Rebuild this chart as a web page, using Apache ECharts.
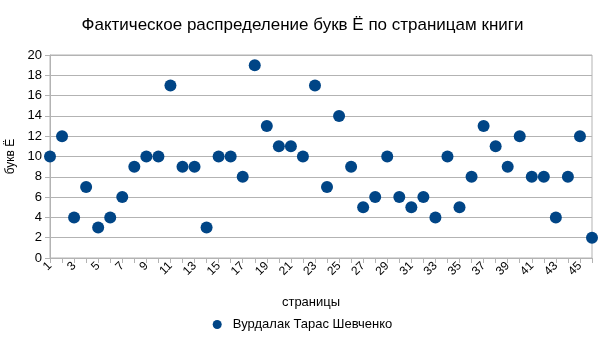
<!DOCTYPE html>
<html><head><meta charset="utf-8">
<script src="https://cdn.jsdelivr.net/npm/echarts@6/dist/echarts.min.js"></script>
<style>html,body{margin:0;padding:0;background:#fff}#c{width:605px;height:341px}</style>
</head><body><div id="c"></div>
<script>
const pages = [];
for (let i = 1; i <= 46; i++) pages.push(String(i));
const letterCounts = [10,12,4,7,3,4,6,9,10,10,17,9,9,3,10,10,8,19,13,11,11,10,17,7,14,9,5,6,10,6,5,6,4,10,5,8,13,11,9,12,8,8,4,8,12,2];
const yTicks = {min:0, max:20, interval:2};
const seriesName = 'Вурдалак Тарас Шевченко';
const font = '"Liberation Sans", Arial, sans-serif';
const chart = echarts.init(document.getElementById('c'), null, {renderer:'canvas'});
chart.setOption({
  animation:false,
  title:{text:'Фактическое распределение букв Ё по страницам книги', left:'center', top:12,
    textStyle:{fontFamily:font, fontSize:17, fontWeight:'normal', color:'#000'}},
  grid:{left:50, right:13, top:55, bottom:83, containLabel:false, outerBoundsMode:'none',
    show:true, borderColor:'#b3b3b3', borderWidth:1},
  legend:{bottom:5, left:'center', itemWidth:9, itemHeight:9, itemGap:5,
    textStyle:{fontFamily:font, fontSize:13, color:'#000', padding:[0,0,0,6]}, data:[{name:seriesName, icon:'circle'}]},
  xAxis:{type:'category', data:pages, boundaryGap:false, name:'страницы', nameLocation:'middle', nameGap:38,
    nameTextStyle:{fontFamily:font, fontSize:13, color:'#000', padding:[0,20,0,0]},
    axisLine:{lineStyle:{color:'#b3b3b3'}},
    axisTick:{show:true, interval:0, length:5, lineStyle:{color:'#b3b3b3'}},
    axisLabel:{interval:1, rotate:45, fontFamily:font, fontSize:12, color:'#000', margin:6},
    splitLine:{show:false}},
  yAxis:{type:'value', min:yTicks.min, max:yTicks.max, interval:yTicks.interval, name:'букв Ё', nameLocation:'middle', nameGap:30,
    nameTextStyle:{fontFamily:font, fontSize:12, color:'#000'},
    axisLine:{show:true, lineStyle:{color:'#b3b3b3'}},
    axisTick:{show:true, length:5, lineStyle:{color:'#b3b3b3'}},
    axisLabel:{fontFamily:font, fontSize:13, color:'#000', margin:8},
    splitLine:{lineStyle:{color:'#b3b3b3'}}},
  series:[{type:'scatter', name:seriesName, data:letterCounts, symbol:'circle', symbolSize:12,
    itemStyle:{color:'#004586', opacity:1}}]
});
</script></body></html>
